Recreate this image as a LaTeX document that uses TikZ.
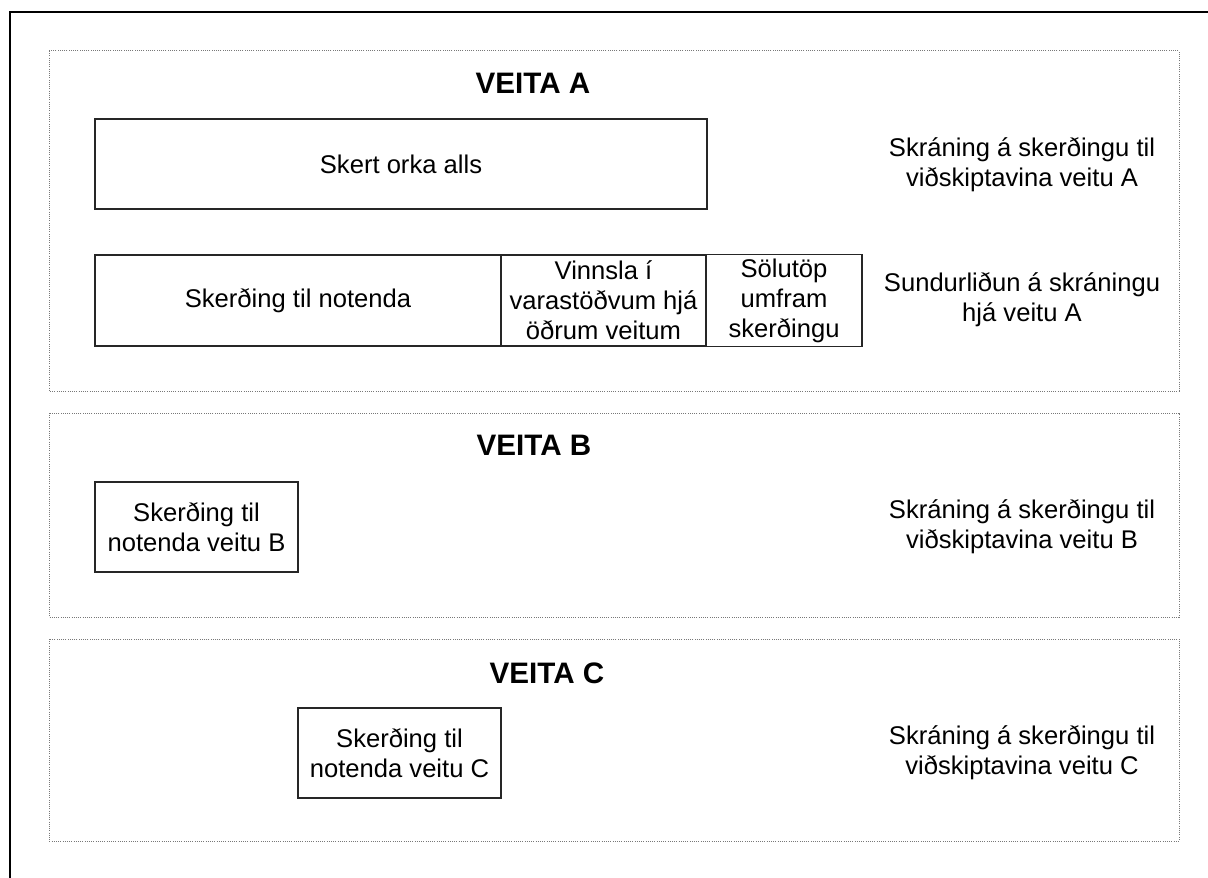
\documentclass[tikz,border=0pt]{standalone}
\usepackage{fontspec}
\setmainfont{Liberation Sans}
\usetikzlibrary{positioning}
\definecolor{rammagrar}{RGB}{120,120,120}
\tikzset{
    kassi/.style={draw=black!85, line width=0.6pt, fill=white, outer sep=0pt, inner sep=2pt, align=center, font=\fontsize{12.8}{15}\selectfont},
    texti/.style={align=center, inner sep=0pt, font=\fontsize{12.8}{15}\selectfont},
    titill/.style={inner sep=0pt, font=\fontsize{14.8}{17}\selectfont\bfseries},
    rammi/.style={draw=rammagrar, line width=0.5pt, dash pattern=on 0.5pt off 0.6pt}
}
\begin{document}
\begin{tikzpicture}[x=0.5pt, y=-0.5pt]
    \useasboundingbox (0,0) rectangle (1208,877);
    % --- Ytri rammi ---
    \draw[line width=1.1pt] (10,920) -- (10,12) -- (1260,12);
    % --- Punktarammar ---
    \draw[rammi] (49,51) rectangle (1179,391);
    \draw[rammi] (49,413) rectangle (1179,617);
    \draw[rammi] (49,639) rectangle (1179,841);
    % --- Veita A ---
    \node[titill] (titillA) at (533,83) {VEITA A};
    \node[kassi, minimum width=306pt, minimum height=45pt] (skert) at (401,164) {Skert orka alls};
    \node[kassi, minimum width=203pt, minimum height=45.5pt] (notendur) at (298,300.5) {Skerðing til notenda};
    \node[kassi, minimum width=102.5pt, minimum height=45.5pt, right=0pt of notendur] (vinnsla) {Vinnsla í\\varastöðvum hjá\\öðrum veitum};
    \node[kassi, minimum width=78pt, minimum height=45.5pt, right=0pt of vinnsla] (solutop) {Sölutöp\\umfram\\skerðingu};
    \node[texti] (skraningA) at (1022,165) {Skráning á skerðingu til\\viðskiptavina veitu A};
    \node[texti] (sundurlidun) at (1022,300) {Sundurliðun á skráningu\\hjá veitu A};
    % --- Veita B ---
    \node[titill] (titillB) at (534,445) {VEITA B};
    \node[kassi, minimum width=101.5pt, minimum height=45pt] (notendurB) at (196.5,527) {Skerðing til\\notenda veitu B};
    \node[texti] (skraningB) at (1022,527) {Skráning á skerðingu til\\viðskiptavina veitu B};
    % --- Veita C ---
    \node[titill] (titillC) at (547,673) {VEITA C};
    \node[kassi, minimum width=101.5pt, minimum height=45pt] (notendurC) at (399.5,753) {Skerðing til\\notenda veitu C};
    \node[texti] (skraningC) at (1022,753) {Skráning á skerðingu til\\viðskiptavina veitu C};
\end{tikzpicture}
\end{document}
